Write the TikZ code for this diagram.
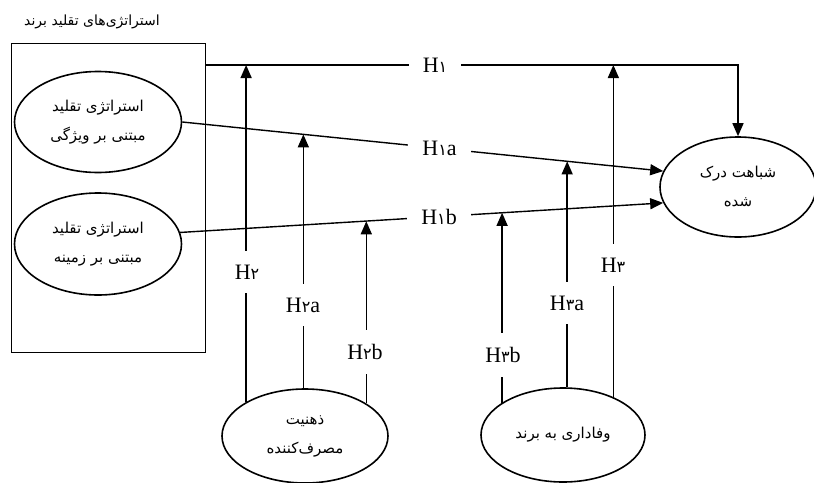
\documentclass[tikz,border=0pt]{standalone}
\usepackage{fontspec}
\setmainfont{Liberation Serif}
\newfontfamily\arabicfont[Script=Arabic]{DejaVu Sans}
\TeXXeTstate=1
\usetikzlibrary{shapes.geometric}
\usetikzlibrary{arrows.meta}
\usetikzlibrary{calc}

\newcommand{\fa}[1]{\beginR #1\endR}
\newcommand{\dig}[1]{{\arabicfont\fontsize{16}{16}\selectfont #1}}

\begin{document}
\begin{tikzpicture}[x=1pt, y=-1pt,
  var/.style={ellipse, draw=black, line width=1.6pt, inner sep=0pt, align=center,
    font=\arabicfont\fontsize{15}{29}\selectfont},
  hyp/.style={fill=white, inner xsep=14pt, inner ysep=14pt, font=\fontsize{22}{22}\selectfont},
  arr/.style={line width=1.4pt, -{Triangle[length=13pt, width=11pt]}}]

 \useasboundingbox (0,0) rectangle (814,482);

 % Box of the imitation strategies
 \node [font=\arabicfont\fontsize{14}{16}\selectfont] (title) at (92,22) {\fa{استراتژی^^^^200cهای تقلید برند}};
 \node [draw, line width=0.9pt, minimum width=194pt, minimum height=309pt, inner sep=0pt] (strat) at (108,197.5) {};
 \node [var, minimum width=167pt, minimum height=101pt] (sim1) at (98,122) {\fa{استراتژی تقلید}\\\fa{مبتنی بر ویژگی}};
 \node [var, minimum width=167pt, minimum height=102pt] (sim2) at (98,244) {\fa{استراتژی تقلید}\\\fa{مبتنی بر زمینه}};

 % Perceived similarity
 \node [var, minimum width=156pt, minimum height=100pt] (tgt) at (738,187) {\fa{شباهت درک}\\\fa{شده}};

 % Moderators
 \node [var, minimum width=166pt, minimum height=94pt] (cons) at (305,436) {\fa{ذهنیت}\\\fa{مصرف^^^^200cکننده}};
 \node [var, minimum width=164pt, minimum height=94pt] (loyal) at (563,435) {\fa{وفاداری به برند}};

 % Direct paths
 \coordinate (h1y) at (0,65);
 \draw [arr] (strat.east |- h1y) -- (tgt.north |- h1y) -- (tgt.north);
 \draw [arr] (sim1.east) -- (tgt.168);
 \draw [arr] (sim2.8) -- (tgt.192);

 % Points where the moderating arrows end
 \coordinate (p2a) at ($(sim1.east)!0.252!(tgt.168)$);
 \coordinate (p3a) at ($(sim1.east)!0.802!(tgt.168)$);
 \coordinate (p2b) at ($(sim2.8)!0.379!(tgt.192)$);
 \coordinate (p3b) at ($(sim2.8)!0.665!(tgt.192)$);

 % Moderating paths
 \draw [arr] (cons.150) -- (cons.150 |- h1y);
 \draw [arr] (cons.92) -- (cons.92 |- p2a);
 \draw [arr] (cons.28) -- (cons.28 |- p2b);
 \draw [arr] (loyal.152) -- (loyal.152 |- p3b);
 \draw [arr] (loyal.85) -- (loyal.85 |- p3a);
 \draw [arr] (loyal.37) -- (loyal.37 |- h1y);

 % Hypothesis labels
 \node [hyp] (lH1) at (435,65) {H\dig{١}};
 \node [hyp] (lH1a) at ($(sim1.east)!0.535!(tgt.168)$) {H\dig{١}a};
 \node [hyp] (lH1b) at ($(sim2.8)!0.536!(tgt.192)$) {H\dig{١}b};
 \node [hyp] (lH2) at (247,272) {H\dig{٢}};
 \node [hyp] (lH2a) at (303,305) {H\dig{٢}a};
 \node [hyp] (lH2b) at (365,352) {H\dig{٢}b};
 \node [hyp] (lH3) at (613,265) {H\dig{٣}};
 \node [hyp] (lH3a) at (567,303) {H\dig{٣}a};
 \node [hyp] (lH3b) at (503,355) {H\dig{٣}b};

\end{tikzpicture}
\end{document}
